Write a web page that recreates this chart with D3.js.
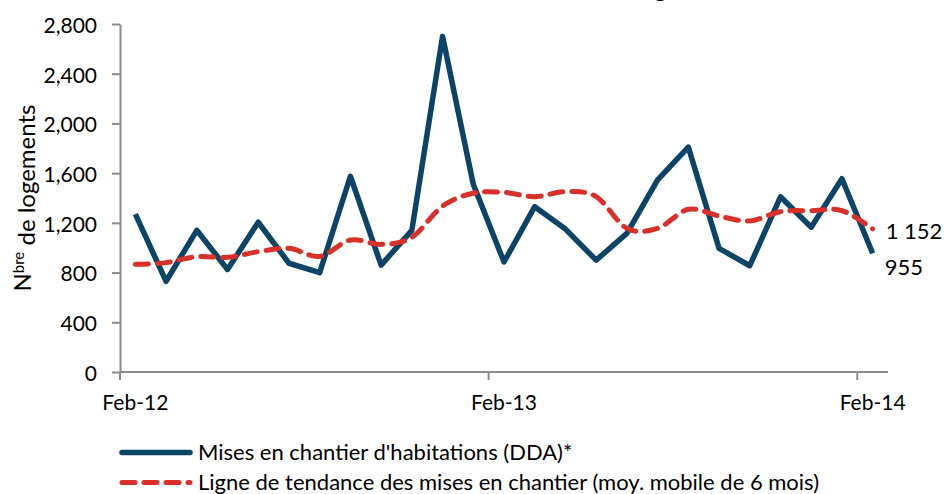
<!DOCTYPE html>
<html>
<head>
<meta charset="utf-8">
<script src="https://cdn.jsdelivr.net/npm/d3@7"></script>
<style>
  body { margin: 0; background: #fff; }
  svg text { font-family: Lato, "Open Sans", sans-serif; fill: #000; }
</style>
</head>
<body>
<div class="canvas"></div>
<script>
// months on the category axis (Feb-12 .. Feb-14)
const months = [
  'Feb-12', 'Mar-12', 'Apr-12', 'May-12', 'Jun-12', 'Jul-12', 'Aug-12', 'Sep-12',
  'Oct-12', 'Nov-12', 'Dec-12', 'Jan-13', 'Feb-13', 'Mar-13', 'Apr-13', 'May-13',
  'Jun-13', 'Jul-13', 'Aug-13', 'Sep-13', 'Oct-13', 'Nov-13', 'Dec-13', 'Jan-14', 'Feb-14',
];
// monthly housing starts (DDA)
const starts = [
  1270, 730, 1140, 825, 1205, 875, 800, 1575, 860, 1140, 2700, 1510, 885,
  1330, 1150, 900, 1115, 1545, 1810, 995, 855, 1410, 1165, 1555, 955,
];
// 6 month moving average
const trend = [
  866, 880, 928, 923, 968, 995, 930, 1062, 1027, 1084, 1335, 1438, 1445,
  1411, 1451, 1411, 1156, 1156, 1309, 1255, 1215, 1290, 1298, 1298, 1152,
];
const labelMonths = ['Feb-12', 'Feb-13', 'Feb-14'];
const yTicks = [0, 400, 800, 1200, 1600, 2000, 2400, 2800];
const seriesNames = [
  "Mises en chantier d'habitations (DDA)*",
  'Ligne de tendance des mises en chantier (moy. mobile de 6 mois)',
];
const lastLabels = ['955', '1 152'];

const dims = { width: 948, height: 494, left: 120, right: 888, top: 24, bottom: 372 };
const blue = '#0b4466';
const red = '#d9302a';
const axisGrey = '#8c8c8c';

const svg = d3
  .select('.canvas')
  .append('svg')
  .attr('width', dims.width)
  .attr('height', dims.height);

const x = d3.scaleBand().domain(months).range([dims.left, dims.right]).padding(0);
const y = d3.scaleLinear().domain([0, 2800]).range([dims.bottom, dims.top]);
const cx = (d, i) => x(months[i]) + x.bandwidth() / 2;

// cut-off title, only the descender shows
const title = svg
  .append('text')
  .attr('y', -3)
  .style('font-size', '26px')
  .style('font-weight', 'bold')
  .text('Mises en chantier de logements');
const pre = svg.append('text').style('font-size', '26px').style('font-weight', 'bold').text('Mises en chantier de lo');
const preW = pre.node().getComputedTextLength();
pre.remove();
title.attr('x', 654 - preW);

// y axis
const yAxis = svg
  .append('g')
  .attr('transform', `translate(${dims.left},0)`)
  .call(d3.axisLeft(y).tickValues(yTicks).tickSize(8).tickSizeOuter(0).tickPadding(15).tickFormat(d3.format(',')));
yAxis.select('.domain').attr('stroke', axisGrey).attr('stroke-width', 2);
yAxis.selectAll('.tick line').attr('stroke', axisGrey).attr('stroke-width', 2);
yAxis.selectAll('.tick text').style('font-size', '21px').attr('dy', '0.4em').attr('fill', '#000');

// x axis
const xAxis = svg.append('g');
xAxis
  .append('line')
  .attr('x1', dims.left)
  .attr('x2', dims.right)
  .attr('y1', dims.bottom)
  .attr('y2', dims.bottom)
  .attr('stroke', axisGrey)
  .attr('stroke-width', 2);
xAxis
  .selectAll('.xt')
  .data(labelMonths)
  .enter()
  .append('line')
  .attr('x1', (d) => x(d))
  .attr('x2', (d) => x(d))
  .attr('y1', dims.bottom)
  .attr('y2', dims.bottom + 8)
  .attr('stroke', axisGrey)
  .attr('stroke-width', 2);
xAxis
  .selectAll('.xl')
  .data(labelMonths)
  .enter()
  .append('text')
  .attr('x', (d) => x(d) + x.bandwidth() / 2)
  .attr('y', 410)
  .attr('text-anchor', 'middle')
  .style('font-size', '21px')
  .text((d) => d);

// y axis title
const yTitle = svg
  .append('text')
  .attr('transform', 'translate(31,198) rotate(-90)')
  .attr('text-anchor', 'middle')
  .style('font-size', '24px');
yTitle.append('tspan').text('N');
yTitle.append('tspan').attr('dy', '-0.45em').style('font-size', '15px').text('bre');
yTitle.append('tspan').attr('dy', '0.45em').text(' de logements');

// lines
const trendLine = d3
  .line()
  .x(cx)
  .y((d) => y(d))
  .curve(d3.curveCardinal.tension(0));
const startsLine = d3.line().x(cx).y((d) => y(d));

svg
  .append('path')
  .datum(starts)
  .attr('d', startsLine)
  .attr('fill', 'none')
  .attr('stroke', blue)
  .attr('stroke-width', 5.5)
  .attr('stroke-linejoin', 'round');

svg
  .append('path')
  .datum(trend)
  .attr('d', trendLine)
  .attr('fill', 'none')
  .attr('stroke', red)
  .attr('stroke-width', 5)
  .attr('stroke-linecap', 'round')
  .attr('stroke-dasharray', '13,9');

// end value labels
const lastX = cx(null, months.length - 1);
svg
  .append('text')
  .attr('x', lastX + 13)
  .attr('y', 239)
  .style('font-size', '22px')
  .text(lastLabels[1]);
svg
  .append('text')
  .attr('x', lastX + 12)
  .attr('y', 275)
  .style('font-size', '22px')
  .text(lastLabels[0]);

// legend
const legend = svg.append('g');
legend
  .append('line')
  .attr('x1', 122)
  .attr('x2', 190)
  .attr('y1', 452.5)
  .attr('y2', 452.5)
  .attr('stroke', blue)
  .attr('stroke-width', 5.5)
  .attr('stroke-linecap', 'round');
legend
  .append('line')
  .attr('x1', 122)
  .attr('x2', 190)
  .attr('y1', 482.5)
  .attr('y2', 482.5)
  .attr('stroke', red)
  .attr('stroke-width', 5)
  .attr('stroke-linecap', 'round')
  .attr('stroke-dasharray', '13,9');
legend
  .selectAll('.lt')
  .data(seriesNames)
  .enter()
  .append('text')
  .attr('x', 198)
  .attr('y', (d, i) => 460 + i * 30)
  .style('font-size', '22px')
  .text((d) => d);
</script>
</body>
</html>
